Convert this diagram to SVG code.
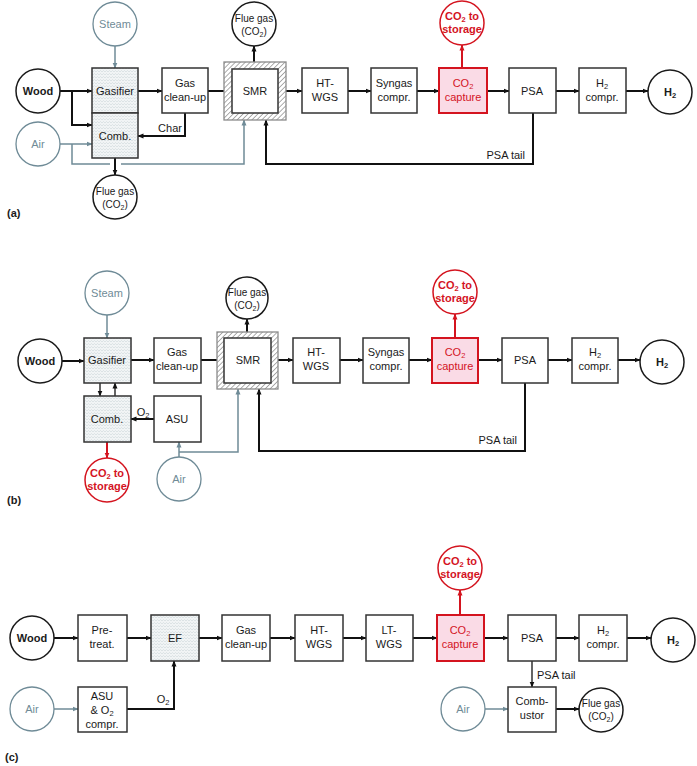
<svg xmlns="http://www.w3.org/2000/svg" width="697" height="766" viewBox="0 0 697 766">
<defs>
<style>
text{font-family:"Liberation Sans",Arial,sans-serif;font-size:11px;fill:#1a1a1a;text-anchor:middle}
.box{fill:#fff;stroke:#333;stroke-width:1.5}
.tex{fill:url(#tex);stroke:#333;stroke-width:1.5}
.cap{fill:#fadbe6;stroke:#d4141f;stroke-width:2}
.circ{fill:#fff;stroke:#1a1a1a;stroke-width:1.5}
.gcirc{fill:#fff;stroke:#6f8b97;stroke-width:1.3}
.rcirc{fill:#fff;stroke:#d4141f;stroke-width:1.5}
.smr{fill:url(#hatch);stroke:#8a8a8a;stroke-width:1.3}
.b{font-weight:bold}
.gt{fill:#6f8b97}
.rt{fill:#d4141f}
.fg{font-size:10px}
.lab{font-weight:bold;text-anchor:start;font-size:11px}
.c{fill:none;stroke:#111;stroke-width:2;marker-end:url(#ab)}
.cn{fill:none;stroke:#111;stroke-width:1.3;marker-end:url(#ab)}
.cg{fill:none;stroke:#6f8b97;stroke-width:1.5;marker-end:url(#ag)}
.cgn{fill:none;stroke:#6f8b97;stroke-width:1.5}
.cr{fill:none;stroke:#d4141f;stroke-width:2;marker-end:url(#ar)}
</style>
<marker id="ab" markerUnits="userSpaceOnUse" markerWidth="6" markerHeight="6" refX="5.5" refY="3" orient="auto"><path d="M0,0.5 L6,3 L0,5.5z" fill="#111"/></marker>
<marker id="ag" markerUnits="userSpaceOnUse" markerWidth="6" markerHeight="6" refX="5.5" refY="3" orient="auto"><path d="M0,0.5 L6,3 L0,5.5z" fill="#6f8b97"/></marker>
<marker id="ar" markerUnits="userSpaceOnUse" markerWidth="6" markerHeight="6" refX="5.5" refY="3" orient="auto"><path d="M0,0.5 L6,3 L0,5.5z" fill="#d4141f"/></marker>
<pattern id="hatch" width="3.5" height="3.5" patternUnits="userSpaceOnUse" patternTransform="rotate(45)"><rect width="3.5" height="3.5" fill="#fff"/><line x1="0" y1="0" x2="0" y2="3.5" stroke="#8a8a8a" stroke-width="1.4"/></pattern>
<pattern id="tex" width="6" height="6" patternUnits="userSpaceOnUse"><rect width="6" height="6" fill="#f1f4f5"/><path d="M0,3 L1.5,1.5 L3,3 L4.5,1.5 L6,3 M0,6 L1.5,4.5 L3,6 L4.5,4.5 L6,6" stroke="#d3dbde" fill="none" stroke-width="0.7"/></pattern>
</defs>
<rect width="697" height="766" fill="#fff"/>

<!-- ===== Panel (a) ===== -->
<g id="connectors-a">
<path class="c" d="M60,91 H92"/>
<path class="c" d="M72,91 V125 H92"/>
<path class="cg" d="M115,46 V68"/>
<path class="cg" d="M60,144 H92"/>
<path class="cgn" d="M72,144 V164 H110"/>
<path class="cg" d="M121,164 H244 V120"/>
<path class="c" d="M115,158 V175"/>
<path class="c" d="M138,91 H162"/>
<path class="c" d="M185,113 V136 H138"/>
<path class="c" d="M208,91 H232"/>
<path class="c" d="M278,91 H302"/>
<path class="c" d="M254,69 V46"/>
<path class="c" d="M348,91 H371"/>
<path class="c" d="M417,91 H439"/>
<path class="c" d="M487,91 H509"/>
<path class="cr" d="M462,68 V45"/>
<path class="c" d="M556,91 H579"/>
<path class="c" d="M626,91 H648"/>
<path class="c" d="M533,113 V164 H266 V120"/>
<text x="170" y="132">Char</text>
<text x="525" y="159" style="text-anchor:end">PSA tail</text>
</g>
<g id="a-wood"><circle class="circ" cx="38" cy="91" r="22"/><text class="b" x="38" y="95">Wood</text></g>
<g id="a-steam"><circle class="gcirc" cx="115" cy="24" r="22"/><text class="gt" x="115" y="28">Steam</text></g>
<g id="a-air"><circle class="gcirc" cx="38" cy="144" r="22"/><text class="gt" x="38" y="148">Air</text></g>
<g id="a-gasifier"><rect class="tex" x="92" y="68" width="46" height="45"/><text x="115" y="95">Gasifier</text></g>
<g id="a-comb"><rect class="tex" x="92" y="113" width="46" height="45"/><text x="115" y="140">Comb.</text></g>
<g id="a-cleanup"><rect class="box" x="162" y="68" width="46" height="45"/><text x="185" y="87">Gas</text><text x="185" y="101">clean-up</text></g>
<g id="a-smr"><rect class="smr" x="224" y="62" width="62" height="58"/><rect class="box" x="232" y="69" width="46" height="44"/><text x="255" y="95">SMR</text></g>
<g id="a-flue1"><circle class="circ" cx="254" cy="24" r="22"/><text class="fg" x="254" y="22">Flue gas</text><text class="fg" x="254" y="35">(CO<tspan font-size="7" dy="2">2</tspan><tspan dy="-2">)</tspan></text></g>
<g id="a-flue2"><circle class="circ" cx="115" cy="197" r="22"/><text class="fg" x="115" y="195">Flue gas</text><text class="fg" x="115" y="208">(CO<tspan font-size="7" dy="2">2</tspan><tspan dy="-2">)</tspan></text></g>
<g id="a-htwgs"><rect class="box" x="302" y="68" width="46" height="45"/><text x="325" y="87">HT-</text><text x="325" y="101">WGS</text></g>
<g id="a-syngas"><rect class="box" x="371" y="68" width="46" height="45"/><text x="394" y="87">Syngas</text><text x="394" y="101">compr.</text></g>
<g id="a-capture"><rect class="cap" x="439" y="68" width="48" height="45"/><text class="rt" x="463" y="87">CO<tspan font-size="7.5" dy="2">2</tspan></text><text class="rt" x="463" y="101">capture</text></g>
<g id="a-storage"><circle class="rcirc" cx="462" cy="23" r="22"/><text class="rt b" x="462" y="20">CO<tspan font-size="7.5" dy="2">2</tspan><tspan dy="-2"> to</tspan></text><text class="rt b" x="462" y="33">storage</text></g>
<g id="a-psa"><rect class="box" x="509" y="68" width="47" height="45"/><text x="532" y="95">PSA</text></g>
<g id="a-h2compr"><rect class="box" x="579" y="68" width="47" height="45"/><text x="602" y="87">H<tspan font-size="7.5" dy="2">2</tspan></text><text x="602" y="101">compr.</text></g>
<g id="a-h2"><circle class="circ" cx="670" cy="92" r="22"/><text class="b" x="670" y="96">H<tspan font-size="7.5" dy="2">2</tspan></text></g>
<text class="lab" x="7" y="217">(a)</text>

<!-- ===== Panel (b) ===== -->
<g id="connectors-b">
<path class="c" d="M62,361 H84"/>
<path class="cg" d="M107,315 V338"/>
<path class="cn" d="M100,383 V396"/>
<path class="cn" d="M115,396 V383"/>
<path class="c" d="M154,419 H131"/>
<path class="cr" d="M107,442 V458"/>
<path class="cg" d="M179,457 V442"/>
<path class="cg" d="M179,452 H238 V389"/>
<path class="c" d="M131,360 H154"/>
<path class="c" d="M201,360 H224"/>
<path class="c" d="M271,360 H293"/>
<path class="c" d="M247,338 V319"/>
<path class="c" d="M340,360 H363"/>
<path class="c" d="M409,360 H432"/>
<path class="c" d="M478,360 H502"/>
<path class="cr" d="M455,338 V314"/>
<path class="c" d="M548,360 H572"/>
<path class="c" d="M618,360 H640"/>
<path class="c" d="M525,383 V451 H259 V389"/>
<text x="143" y="416">O<tspan font-size="7.5" dy="2">2</tspan></text>
<text x="517" y="444" style="text-anchor:end">PSA tail</text>
</g>
<g id="b-wood"><circle class="circ" cx="40" cy="361" r="22"/><text class="b" x="40" y="365">Wood</text></g>
<g id="b-steam"><circle class="gcirc" cx="107" cy="293" r="22"/><text class="gt" x="107" y="297">Steam</text></g>
<g id="b-gasifier"><rect class="tex" x="84" y="338" width="47" height="45"/><text x="107" y="364">Gasifier</text></g>
<g id="b-comb"><rect class="tex" x="84" y="396" width="47" height="46"/><text x="107" y="423">Comb.</text></g>
<g id="b-cleanup"><rect class="box" x="154" y="338" width="47" height="45"/><text x="177" y="356">Gas</text><text x="177" y="370">clean-up</text></g>
<g id="b-asu"><rect class="box" x="154" y="396" width="47" height="46"/><text x="177" y="423">ASU</text></g>
<g id="b-smr"><rect class="smr" x="217" y="332" width="61" height="57"/><rect class="box" x="224" y="338" width="47" height="45"/><text x="248" y="364">SMR</text></g>
<g id="b-flue"><circle class="circ" cx="247" cy="298" r="21"/><text class="fg" x="247" y="296">Flue gas</text><text class="fg" x="247" y="309">(CO<tspan font-size="7" dy="2">2</tspan><tspan dy="-2">)</tspan></text></g>
<g id="b-htwgs"><rect class="box" x="293" y="338" width="47" height="45"/><text x="316" y="356">HT-</text><text x="316" y="370">WGS</text></g>
<g id="b-syngas"><rect class="box" x="363" y="338" width="46" height="45"/><text x="386" y="356">Syngas</text><text x="386" y="370">compr.</text></g>
<g id="b-capture"><rect class="cap" x="432" y="338" width="46" height="45"/><text class="rt" x="455" y="356">CO<tspan font-size="7.5" dy="2">2</tspan></text><text class="rt" x="455" y="370">capture</text></g>
<g id="b-storage1"><circle class="rcirc" cx="455" cy="292" r="22"/><text class="rt b" x="455" y="289">CO<tspan font-size="7.5" dy="2">2</tspan><tspan dy="-2"> to</tspan></text><text class="rt b" x="455" y="302">storage</text></g>
<g id="b-psa"><rect class="box" x="502" y="338" width="46" height="45"/><text x="525" y="364">PSA</text></g>
<g id="b-h2compr"><rect class="box" x="572" y="338" width="46" height="45"/><text x="595" y="356">H<tspan font-size="7.5" dy="2">2</tspan></text><text x="595" y="370">compr.</text></g>
<g id="b-h2"><circle class="circ" cx="662" cy="362" r="22"/><text class="b" x="662" y="366">H<tspan font-size="7.5" dy="2">2</tspan></text></g>
<g id="b-storage2"><circle class="rcirc" cx="107" cy="480" r="22"/><text class="rt b" x="107" y="477">CO<tspan font-size="7.5" dy="2">2</tspan><tspan dy="-2"> to</tspan></text><text class="rt b" x="107" y="490">storage</text></g>
<g id="b-air"><circle class="gcirc" cx="179" cy="479" r="22"/><text class="gt" x="179" y="483">Air</text></g>
<text class="lab" x="7" y="504">(b)</text>

<!-- ===== Panel (c) ===== -->
<g id="connectors-c">
<path class="c" d="M54,638 H78"/>
<path class="c" d="M127,638 H151"/>
<path class="c" d="M199,638 H222"/>
<path class="c" d="M270,638 H295"/>
<path class="c" d="M343,638 H366"/>
<path class="c" d="M413,638 H437"/>
<path class="c" d="M484,638 H508"/>
<path class="cr" d="M460,615 V590"/>
<path class="c" d="M556,638 H579"/>
<path class="c" d="M627,638 H651"/>
<path class="cg" d="M54,709 H78"/>
<path class="c" d="M127,709 H174 V661"/>
<path class="cn" d="M532,661 V687"/>
<path class="cg" d="M485,709 H508"/>
<path class="c" d="M556,709 H579"/>
<text x="163" y="703">O<tspan font-size="7.5" dy="2">2</tspan></text>
<text x="537" y="679" style="text-anchor:start">PSA tail</text>
</g>
<g id="c-wood"><circle class="circ" cx="32" cy="638" r="22"/><text class="b" x="32" y="642">Wood</text></g>
<g id="c-pretreat"><rect class="box" x="78" y="615" width="49" height="46"/><text x="102" y="634">Pre-</text><text x="102" y="648">treat.</text></g>
<g id="c-ef"><rect class="tex" x="151" y="615" width="48" height="46"/><text x="175" y="642">EF</text></g>
<g id="c-cleanup"><rect class="box" x="222" y="615" width="48" height="46"/><text x="246" y="634">Gas</text><text x="246" y="648">clean-up</text></g>
<g id="c-htwgs"><rect class="box" x="295" y="615" width="48" height="46"/><text x="319" y="634">HT-</text><text x="319" y="648">WGS</text></g>
<g id="c-ltwgs"><rect class="box" x="366" y="615" width="47" height="46"/><text x="389" y="634">LT-</text><text x="389" y="648">WGS</text></g>
<g id="c-capture"><rect class="cap" x="437" y="615" width="47" height="46"/><text class="rt" x="460" y="634">CO<tspan font-size="7.5" dy="2">2</tspan></text><text class="rt" x="460" y="648">capture</text></g>
<g id="c-storage"><circle class="rcirc" cx="460" cy="568" r="22"/><text class="rt b" x="460" y="565">CO<tspan font-size="7.5" dy="2">2</tspan><tspan dy="-2"> to</tspan></text><text class="rt b" x="460" y="578">storage</text></g>
<g id="c-psa"><rect class="box" x="508" y="615" width="48" height="46"/><text x="532" y="642">PSA</text></g>
<g id="c-h2compr"><rect class="box" x="579" y="615" width="48" height="46"/><text x="603" y="634">H<tspan font-size="7.5" dy="2">2</tspan></text><text x="603" y="648">compr.</text></g>
<g id="c-h2"><circle class="circ" cx="673" cy="640" r="22"/><text class="b" x="673" y="644">H<tspan font-size="7.5" dy="2">2</tspan></text></g>
<g id="c-air1"><circle class="gcirc" cx="32" cy="709" r="22"/><text class="gt" x="32" y="713">Air</text></g>
<g id="c-asu"><rect class="box" x="78" y="687" width="49" height="45"/><text x="102" y="700">ASU</text><text x="102" y="714">&amp; O<tspan font-size="7.5" dy="2">2</tspan></text><text x="102" y="728">compr.</text></g>
<g id="c-combustor"><rect class="box" x="508" y="687" width="48" height="45"/><text x="532" y="705">Comb-</text><text x="532" y="719">ustor</text></g>
<g id="c-air2"><circle class="gcirc" cx="463" cy="709" r="22"/><text class="gt" x="463" y="713">Air</text></g>
<g id="c-flue"><circle class="circ" cx="601" cy="710" r="22"/><text class="fg" x="601" y="707">Flue gas</text><text class="fg" x="601" y="720">(CO<tspan font-size="7" dy="2">2</tspan><tspan dy="-2">)</tspan></text></g>
<text class="lab" x="5" y="761">(c)</text>
</svg>
